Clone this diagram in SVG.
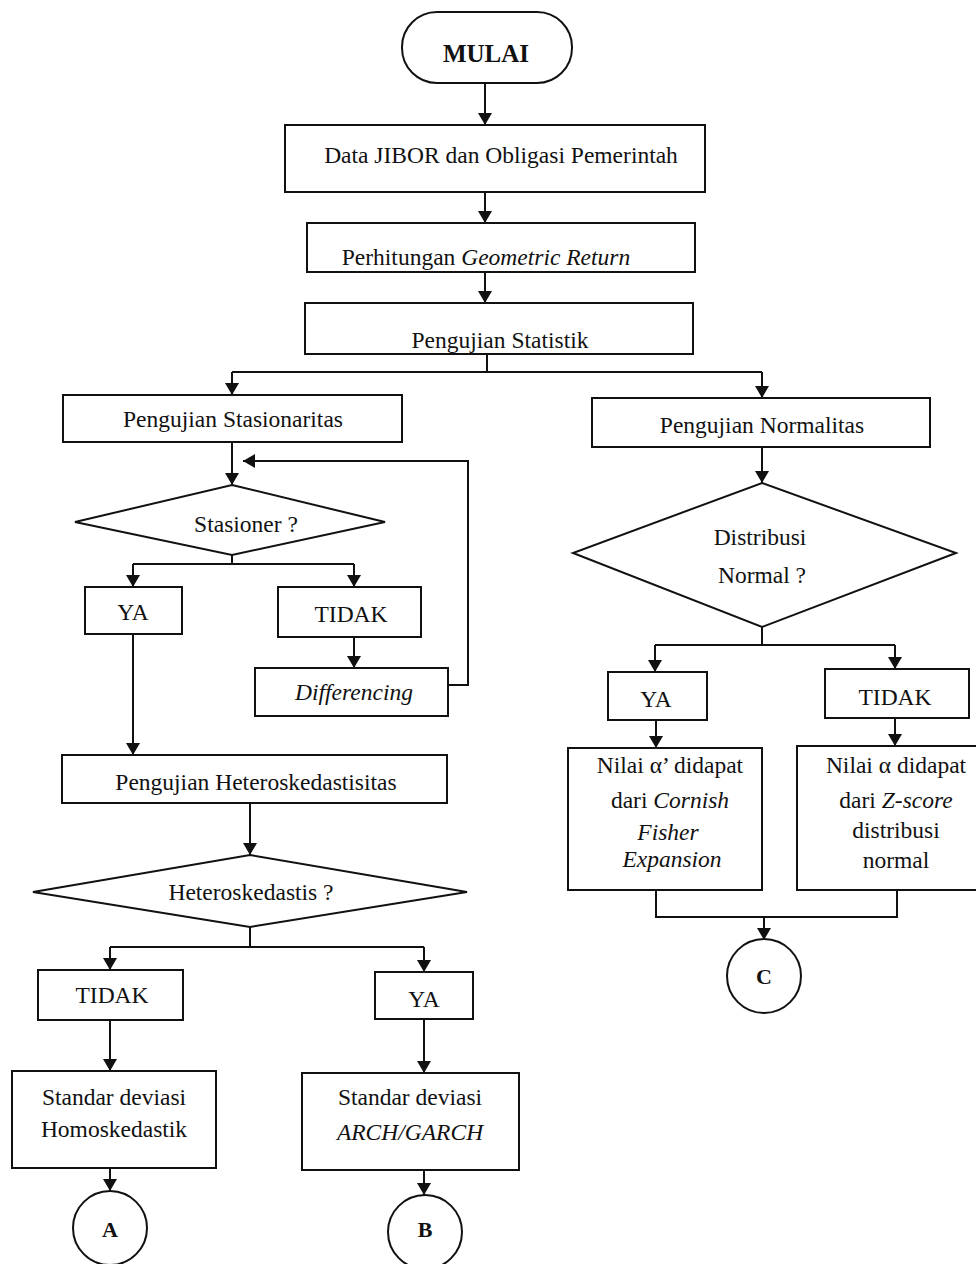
<svg xmlns="http://www.w3.org/2000/svg" width="976" height="1264" viewBox="0 0 976 1264">
<style>
.n{fill:#fff;stroke:#111;stroke-width:2}
.t{font-family:"Liberation Serif","Times New Roman",serif;font-size:23.5px;fill:#111;text-anchor:middle}
.b{font-weight:bold}
.i{font-style:italic}
.c{fill:none;stroke:#111;stroke-width:2}
</style>
<defs>
<marker id="ah" viewBox="0 0 12 14" refX="12" refY="7" markerWidth="12" markerHeight="14" markerUnits="userSpaceOnUse" orient="auto">
<path d="M0,0 L12,7 L0,14 Z" fill="#111"/>
</marker>
</defs>
<rect width="976" height="1264" fill="#fff"/>

<g id="connectors">
<path class="c" d="M485,83 V125" marker-end="url(#ah)"/>
<path class="c" d="M485,192 V223" marker-end="url(#ah)"/>
<path class="c" d="M485,272 V303" marker-end="url(#ah)"/>
<path class="c" d="M487,354 V372 M232,372 H762"/>
<path class="c" d="M232,372 V395" marker-end="url(#ah)"/>
<path class="c" d="M762,372 V398" marker-end="url(#ah)"/>
<path class="c" d="M232,442 V485" marker-end="url(#ah)"/>
<path class="c" d="M448,685 H468 V461 H243" marker-end="url(#ah)"/>
<path class="c" d="M232,555 V564 M133,564 H354"/>
<path class="c" d="M133,564 V587" marker-end="url(#ah)"/>
<path class="c" d="M354,564 V587" marker-end="url(#ah)"/>
<path class="c" d="M354,637 V668" marker-end="url(#ah)"/>
<path class="c" d="M133,634 V755" marker-end="url(#ah)"/>
<path class="c" d="M250,803 V855" marker-end="url(#ah)"/>
<path class="c" d="M250,927 V947 M110,947 H424"/>
<path class="c" d="M110,947 V970" marker-end="url(#ah)"/>
<path class="c" d="M424,947 V972" marker-end="url(#ah)"/>
<path class="c" d="M110,1020 V1071" marker-end="url(#ah)"/>
<path class="c" d="M424,1019 V1073" marker-end="url(#ah)"/>
<path class="c" d="M110,1168 V1191" marker-end="url(#ah)"/>
<path class="c" d="M424,1170 V1195" marker-end="url(#ah)"/>
<path class="c" d="M762,447 V483" marker-end="url(#ah)"/>
<path class="c" d="M762,627 V645 M655,645 H895"/>
<path class="c" d="M655,645 V672" marker-end="url(#ah)"/>
<path class="c" d="M895,645 V669" marker-end="url(#ah)"/>
<path class="c" d="M656,720 V748" marker-end="url(#ah)"/>
<path class="c" d="M895,718 V746" marker-end="url(#ah)"/>
<path class="c" d="M656,890 V917 H897 V890"/>
<path class="c" d="M764,917 V940" marker-end="url(#ah)"/>
</g>

<g id="mulai">
<rect class="n" x="402" y="12" width="170" height="71" rx="35" ry="35"/>
<text class="t b" x="486" y="62" style="font-size:25px">MULAI</text>
</g>
<g id="data">
<rect class="n" x="285" y="125" width="420" height="67"/>
<text class="t" x="501" y="163">Data JIBOR dan Obligasi Pemerintah</text>
</g>
<g id="perhitungan">
<rect class="n" x="307" y="223" width="388" height="49"/>
<text class="t" x="486" y="265">Perhitungan <tspan class="i">Geometric Return</tspan></text>
</g>
<g id="statistik">
<rect class="n" x="305" y="303" width="388" height="51"/>
<text class="t" x="500" y="348">Pengujian Statistik</text>
</g>
<g id="stasionaritas">
<rect class="n" x="63" y="395" width="339" height="47"/>
<text class="t" x="233" y="427">Pengujian Stasionaritas</text>
</g>
<g id="stasioner">
<polygon class="n" points="232,485 385,522 232,555 75,522"/>
<text class="t" x="246" y="532">Stasioner ?</text>
</g>
<g id="ya1">
<rect class="n" x="85" y="587" width="97" height="47"/>
<text class="t" x="133" y="620">YA</text>
</g>
<g id="tidak1">
<rect class="n" x="278" y="587" width="143" height="50"/>
<text class="t" x="351" y="622">TIDAK</text>
</g>
<g id="differencing">
<rect class="n" x="255" y="668" width="193" height="48"/>
<text class="t i" x="354" y="700">Differencing</text>
</g>
<g id="hetero">
<rect class="n" x="62" y="755" width="385" height="48"/>
<text class="t" x="256" y="790">Pengujian Heteroskedastisitas</text>
</g>
<g id="heteroq">
<polygon class="n" points="250,855 467,892 250,927 33,892"/>
<text class="t" x="251" y="900">Heteroskedastis ?</text>
</g>
<g id="tidak2">
<rect class="n" x="38" y="970" width="145" height="50"/>
<text class="t" x="112" y="1003">TIDAK</text>
</g>
<g id="ya2">
<rect class="n" x="375" y="972" width="98" height="47"/>
<text class="t" x="424" y="1007">YA</text>
</g>
<g id="homo">
<rect class="n" x="12" y="1071" width="204" height="97"/>
<text class="t" x="114" y="1105">Standar deviasi</text>
<text class="t" x="114" y="1137">Homoskedastik</text>
</g>
<g id="arch">
<rect class="n" x="302" y="1073" width="217" height="97"/>
<text class="t" x="410" y="1105">Standar deviasi</text>
<text class="t i" x="410" y="1140">ARCH/GARCH</text>
</g>
<g id="a">
<circle class="n" cx="110" cy="1228" r="37"/>
<text class="t b" x="110" y="1237" style="font-size:22px">A</text>
</g>
<g id="b">
<circle class="n" cx="425" cy="1232" r="37"/>
<text class="t b" x="425" y="1237" style="font-size:22px">B</text>
</g>
<g id="normalitas">
<rect class="n" x="592" y="398" width="338" height="49"/>
<text class="t" x="762" y="433">Pengujian Normalitas</text>
</g>
<g id="distribusi">
<polygon class="n" points="762,483 956,553 762,627 573,553"/>
<text class="t" x="760" y="545">Distribusi</text>
<text class="t" x="762" y="583">Normal ?</text>
</g>
<g id="ya3">
<rect class="n" x="608" y="672" width="99" height="48"/>
<text class="t" x="656" y="707">YA</text>
</g>
<g id="tidak3">
<rect class="n" x="825" y="669" width="144" height="49"/>
<text class="t" x="895" y="705">TIDAK</text>
</g>
<g id="cornish">
<rect class="n" x="568" y="748" width="194" height="142"/>
<text class="t" x="670" y="773">Nilai α’ didapat</text>
<text class="t" x="670" y="808">dari <tspan class="i">Cornish</tspan></text>
<text class="t i" x="668" y="840">Fisher</text>
<text class="t i" x="672" y="867">Expansion</text>
</g>
<g id="zscore">
<rect class="n" x="797" y="746" width="200" height="144"/>
<text class="t" x="896" y="773">Nilai α didapat</text>
<text class="t" x="896" y="808">dari <tspan class="i">Z-score</tspan></text>
<text class="t" x="896" y="838">distribusi</text>
<text class="t" x="896" y="868">normal</text>
</g>
<g id="c">
<circle class="n" cx="764" cy="976" r="37"/>
<text class="t b" x="764" y="984" style="font-size:22px">C</text>
</g>
</svg>
